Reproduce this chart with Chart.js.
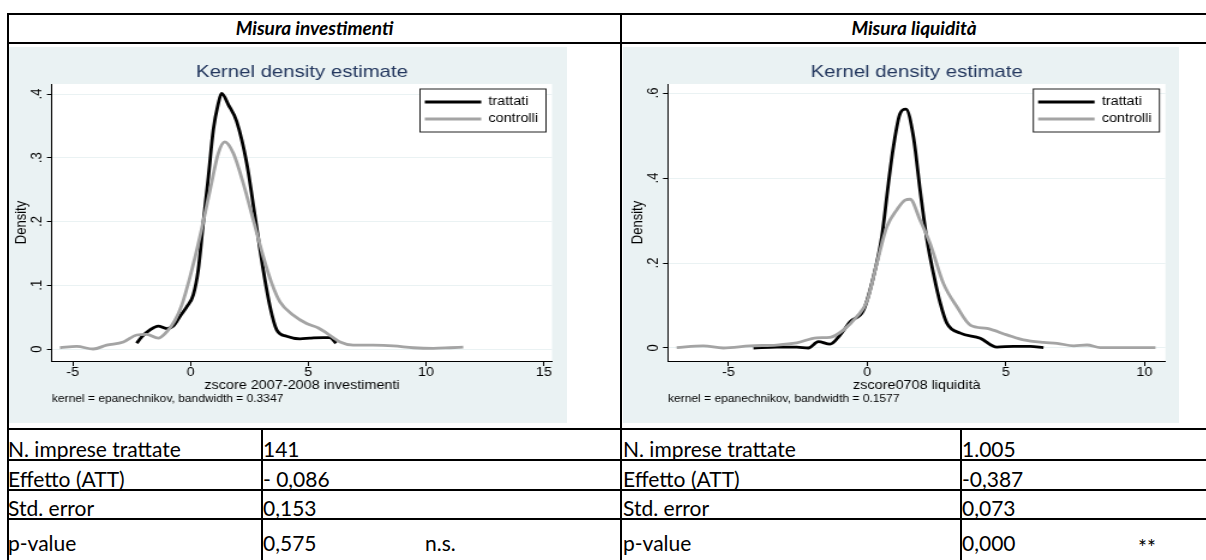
<!DOCTYPE html>
<html>
<head>
<meta charset="utf-8">
<script src="https://cdn.jsdelivr.net/npm/chart.js@4.4.0/dist/chart.umd.min.js"></script>
<style>
  body { margin: 0; background: #fff; width: 1206px; height: 560px; overflow: hidden; position: relative; font-family: Lato, "Open Sans", sans-serif; color: #000; }
  .ln { position: absolute; background: #000; }
  .txt { position: absolute; white-space: nowrap; height: 30px; line-height: 30px; }
  .hdr { position: absolute; top: 14px; height: 28px; line-height: 28px; text-align: center; font-weight: bold; font-style: italic; font-size: 19px; }
  .panel { position: absolute; top: 47px; height: 376px; background: #eaf2f3; }
  .panel canvas { position: absolute; left: 0; top: 0; transform-origin: 0 0; }
</style>
</head>
<body>
<div class="panel" style="left:9px;width:558px"><canvas id="invChart" width="465" height="376"></canvas></div>
<div class="panel" style="left:623px;width:556px"><canvas id="liqChart" width="463" height="376"></canvas></div>
<script>
// series names
const seriesLabels = ['trattati', 'controlli'];

// Misura investimenti (kernel density)
const invTrattatiX = [-2.28, -2.07, -1.72, -1.37, -1.01, -0.73, -0.45, -0.16, 0.12, 0.33, 0.54, 0.76, 0.97, 1.18, 1.32, 1.61, 1.96, 2.39, 2.74, 3.09, 3.38, 3.66, 4.08, 4.65, 5.07, 5.64, 5.92, 6.18];
const invTrattatiY = [0.009, 0.019, 0.030, 0.036, 0.032, 0.036, 0.051, 0.066, 0.085, 0.124, 0.197, 0.270, 0.344, 0.385, 0.401, 0.383, 0.357, 0.291, 0.208, 0.124, 0.066, 0.030, 0.020, 0.016, 0.017, 0.018, 0.018, 0.009];
const invControlliX = [-5.54, -4.83, -4.13, -3.56, -2.85, -2.28, -1.86, -1.37, -1.01, -0.66, -0.37, -0.02, 0.40, 0.83, 1.18, 1.46, 1.82, 2.24, 2.67, 3.09, 3.45, 3.80, 4.37, 4.93, 5.43, 5.78, 6.35, 6.91, 7.76, 8.61, 9.46, 10.31, 11.02, 11.58];
const invControlliY = [0.002, 0.004, 0.000, 0.006, 0.011, 0.022, 0.023, 0.017, 0.027, 0.045, 0.069, 0.113, 0.176, 0.249, 0.307, 0.325, 0.307, 0.260, 0.202, 0.145, 0.103, 0.074, 0.053, 0.040, 0.033, 0.025, 0.011, 0.006, 0.006, 0.005, 0.002, 0.001, 0.002, 0.003];
const invXTicks = [-5, 0, 5, 10, 15];
const invYTicks = [0, 0.1, 0.2, 0.3, 0.4];

// Misura liquidità (kernel density)
const liqTrattatiX = [-4.10, -3.26, -2.54, -2.12, -1.76, -1.34, -0.97, -0.61, -0.13, 0.23, 0.53, 0.77, 0.95, 1.19, 1.40, 1.67, 1.91, 2.16, 2.39, 2.64, 2.88, 3.36, 4.08, 4.68, 5.28, 5.88, 6.36];
const liqTrattatiY = [0.000, 0.002, 0.002, 0.000, 0.015, 0.009, 0.031, 0.062, 0.089, 0.168, 0.262, 0.388, 0.474, 0.552, 0.562, 0.497, 0.372, 0.254, 0.176, 0.105, 0.058, 0.035, 0.023, 0.002, 0.004, 0.004, 0.001];
const liqControlliX = [-6.87, -5.91, -5.19, -4.22, -3.26, -2.54, -1.82, -1.34, -0.86, -0.37, -0.01, 0.35, 0.71, 1.07, 1.37, 1.55, 1.91, 2.27, 2.75, 3.24, 3.72, 4.32, 5.04, 5.64, 6.36, 6.85, 7.45, 7.93, 8.41, 9.61, 10.40];
const liqControlliY = [0.001, 0.005, 0.000, 0.005, 0.007, 0.012, 0.024, 0.025, 0.042, 0.074, 0.109, 0.199, 0.285, 0.325, 0.348, 0.350, 0.301, 0.246, 0.152, 0.097, 0.054, 0.046, 0.031, 0.019, 0.013, 0.011, 0.005, 0.007, 0.001, 0.001, 0.001];
const liqXTicks = [-5, 0, 5, 10];
const liqYTicks = [0, 0.2, 0.4, 0.6];

// table below the graphs
const rowLabels = ['N. imprese trattate', 'Effetto (ATT)', 'Std. error', 'p-value'];
const invStats = ['141', '- 0,086', '0,153', '0,575'];
const liqStats = ['1.005', '-0,387', '0,073', '0,000'];
const invSignif = 'n.s.';
const liqSignif = '**';

const F = '"Liberation Sans", Arial, sans-serif';
const bgColor = '#eaf2f3';

// ---- table lines and text ----
function line(x, y, w, h) {
  const d = document.createElement('div');
  d.className = 'ln';
  d.style.cssText = `left:${x}px;top:${y}px;width:${w}px;height:${h}px`;
  document.body.appendChild(d);
}
function text(str, x, cy, size) {
  const d = document.createElement('div');
  d.className = 'txt';
  d.textContent = str;
  d.style.cssText = `left:${x}px;top:${cy - 15}px;font-size:${size}px;`;
  document.body.appendChild(d);
}
function header(str, x, w) {
  const d = document.createElement('div');
  d.className = 'hdr';
  d.textContent = str;
  d.style.left = x + 'px';
  d.style.width = w + 'px';
  document.body.appendChild(d);
}

line(7, 13, 1199, 2);
line(7, 42, 1199, 2);
line(7, 13, 2, 547);
line(620, 13, 2, 547);
[428, 459, 489, 518].forEach(y => line(7, y, 1199, 2));
line(261, 428, 2, 132);
line(960, 428, 2, 132);

header('Misura investimenti', 9, 611);
header('Misura liquidità', 622, 584);

const rowCenters = [449, 479, 508, 543];
rowLabels.forEach((lab, i) => {
  text(lab, 8, rowCenters[i], 21);
  text(invStats[i], 263, rowCenters[i], 21);
  text(lab, 623, rowCenters[i], 21);
  text(liqStats[i], 962, rowCenters[i], 21);
});
text(invSignif, 425, rowCenters[3], 21);
text(liqSignif, 1138, rowCenters[3] + 4, 21);

// ---- kernel density graphs ----
function toPoints(xs, ys) {
  return xs.map((x, i) => ({ x: x, y: ys[i] }));
}

function fmtTick(v) {
  if (v === 0) return '0';
  return String(+v.toFixed(2)).replace(/^0\./, '.');
}

const stataPlugin = {
  id: 'stataPanel',
  beforeDraw(chart) {
    const { ctx, chartArea: a } = chart;
    ctx.save();
    ctx.fillStyle = '#ffffff';
    ctx.fillRect(a.left, a.top, a.right - a.left, a.bottom - a.top);
    ctx.restore();
  },
  afterDraw(chart) {
    const { ctx, chartArea: a } = chart;
    const ys = chart.scales.y;
    ctx.save();
    // rotated y tick labels
    ctx.fillStyle = '#000';
    ctx.font = '13px ' + F;
    ctx.textAlign = 'center';
    ctx.textBaseline = 'middle';
    ys.ticks.forEach(t => {
      ctx.save();
      ctx.translate(a.left - 12.5, ys.getPixelForValue(t.value));
      ctx.rotate(-Math.PI / 2);
      ctx.fillText(fmtTick(t.value), 0, 0);
      ctx.restore();
    });
    // legend box in the top right corner
    const bw = 105, bh = 43;
    const bx = a.right - 5 - bw, by = a.top + 5;
    ctx.fillStyle = '#fff';
    ctx.fillRect(bx, by, bw, bh);
    ctx.strokeStyle = '#222';
    ctx.lineWidth = 1;
    ctx.strokeRect(bx, by, bw, bh);
    ctx.font = '12px ' + F;
    ctx.textAlign = 'left';
    chart.data.datasets.forEach((ds, i) => {
      const ly = by + 13 + i * 17;
      ctx.strokeStyle = ds.borderColor;
      ctx.lineWidth = ds.borderWidth;
      ctx.beginPath();
      ctx.moveTo(bx + 4, ly);
      ctx.lineTo(bx + 51, ly);
      ctx.stroke();
      ctx.fillStyle = '#000';
      ctx.fillText(ds.label, bx + 57, ly);
    });
    ctx.restore();
  }
};

function makeChart(id, c) {
  const canvas = document.getElementById(id);
  canvas.style.transform = `scaleX(${c.stretch})`;
  return new Chart(canvas, {
    type: 'line',
    data: {
      datasets: [{
        label: seriesLabels[0],
        data: toPoints(c.tx, c.ty),
        borderColor: '#000000',
        borderWidth: 2.8,
        order: 1
      }, {
        label: seriesLabels[1],
        data: toPoints(c.cx, c.cy),
        borderColor: '#a4a4a4',
        borderWidth: 2.8,
        order: 0
      }]
    },
    options: {
      responsive: false,
      animation: false,
      events: [],
      elements: {
        point: { radius: 0 },
        line: { cubicInterpolationMode: 'monotone', fill: false }
      },
      layout: { padding: { left: 0, top: 0, right: c.padRight, bottom: 19 } },
      plugins: {
        legend: { display: false },
        tooltip: { enabled: false },
        title: {
          display: true,
          text: 'Kernel density estimate',
          fullSize: false,
          color: '#23375e',
          font: { size: 17, family: F, weight: 'normal' },
          padding: { top: 14.8, bottom: 1.8 }
        },
        subtitle: {
          display: true,
          position: 'bottom',
          align: 'start',
          fullSize: false,
          text: c.note,
          color: '#000',
          font: { size: 10, family: F, lineHeight: 1 },
          padding: { top: 2, bottom: 0 }
        }
      },
      scales: {
        x: {
          type: 'linear',
          min: c.xMin,
          max: c.xMax,
          afterBuildTicks: s => { s.ticks = c.xTicks.map(v => ({ value: v })); },
          ticks: {
            color: '#000',
            font: { size: 12, family: F, lineHeight: 1 },
            padding: 1,
            maxRotation: 0,
            autoSkip: false,
            callback: v => String(v)
          },
          grid: { drawOnChartArea: false, tickLength: 5, tickColor: '#000' },
          border: { color: '#000', width: 1 },
          title: {
            display: true,
            text: c.xTitle,
            color: '#000',
            font: { size: 12, family: F, lineHeight: 1 },
            padding: 0
          }
        },
        y: {
          type: 'linear',
          min: c.yMin,
          max: c.yMax,
          afterBuildTicks: s => { s.ticks = c.yTicks.map(v => ({ value: v })); },
          afterFit: s => { s.width = c.axisLeft; },
          ticks: { display: false },
          grid: { color: bgColor, tickColor: '#000', tickLength: 4.2 },
          border: { color: '#000', width: 1 },
          title: {
            display: true,
            text: 'Density',
            color: '#000',
            font: { size: 13, family: F, lineHeight: 1 },
            padding: { top: c.yTitlePad, bottom: 0 }
          }
        }
      }
    },
    plugins: [stataPlugin]
  });
}

makeChart('invChart', {
  tx: invTrattatiX, ty: invTrattatiY, cx: invControlliX, cy: invControlliY,
  xTicks: invXTicks, yTicks: invYTicks,
  xMin: -5.88, xMax: 15.35, yMin: -0.0188, yMax: 0.4157,
  xTitle: 'zscore 2007-2008 investimenti',
  note: 'kernel = epanechnikov, bandwidth = 0.3347',
  stretch: 558 / 465, axisLeft: 35.8, padRight: 12.5, yTitlePad: 3.5
});

makeChart('liqChart', {
  tx: liqTrattatiX, ty: liqTrattatiY, cx: liqControlliX, cy: liqControlliY,
  xTicks: liqXTicks, yTicks: liqYTicks,
  xMin: -7.18, xMax: 10.76, yMin: -0.0306, yMax: 0.6212,
  xTitle: 'zscore0708 liquidità',
  note: 'kernel = epanechnikov, bandwidth = 0.1577',
  stretch: 556 / 463, axisLeft: 37.5, padRight: 11.3, yTitlePad: 5.5
});
</script>
</body>
</html>
